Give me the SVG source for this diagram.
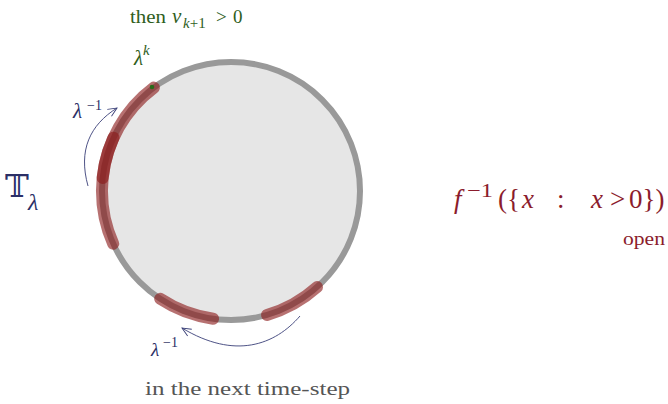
<svg xmlns="http://www.w3.org/2000/svg" width="668" height="404" viewBox="0 0 668 404">
<style>
text{font-family:"Liberation Serif","DejaVu Serif",serif}
.g{fill:#2f5e1c}
.n{fill:#2b2f66}
.r{fill:#8b1c2c}
.it{font-style:italic}
.arc{fill:none;stroke:#8b1a1a;stroke-opacity:0.62;stroke-width:12;stroke-linecap:round}
.arr{fill:none;stroke:#3a4078;stroke-width:0.9}
</style>
<defs>
<marker id="ah" markerWidth="12" markerHeight="12" refX="0" refY="0" viewBox="-10 -6 12 12" orient="auto" markerUnits="userSpaceOnUse">
<path d="M -9 -4 L 0 0 L -9 4" fill="none" stroke="#3a4078" stroke-width="0.9"/>
</marker>
</defs>
<g id="circle">
<circle cx="231" cy="191" r="129" fill="#e6e6e6" stroke="#999" stroke-width="6"/>
</g>
<g id="arcs">
<path class="arc" d="M 153.9 87.6 A 129 129 0 0 0 102.7 178"/>
<path class="arc" d="M 113.5 137.7 A 129 129 0 0 0 113.2 243.7"/>
<path class="arc" d="M 160.2 298.8 A 129 129 0 0 0 213.1 318.7"/>
<path class="arc" d="M 267 314.9 A 129 129 0 0 0 317 287.1"/>
</g>
<circle cx="152" cy="87" r="2.3" fill="#2a6a1a"/>
<g id="connectors">
<path class="arr" d="M 88 186 C 78 150, 90 125, 117 108" marker-end="url(#ah)"/>
<path class="arr" d="M 300 316 C 275 345, 235 360, 182 328" marker-end="url(#ah)"/>
</g>
<g id="labels">
<text y="23" font-size="19" class="g"><tspan x="130" textLength="36" lengthAdjust="spacingAndGlyphs">then</tspan><tspan x="172" class="it" font-size="21">v</tspan><tspan x="183" y="28" class="it" font-size="15">k</tspan><tspan font-size="15">+1</tspan><tspan x="216" y="23">&gt;</tspan><tspan x="233">0</tspan></text>
<text x="134" y="65" font-size="21" class="g it">λ<tspan font-size="15" dy="-10">k</tspan></text>
<text x="73" y="118" font-size="21" class="n it">λ<tspan x="87" y="110" font-style="normal" font-size="14">−1</tspan></text>
<text x="5" y="197" font-size="32" class="n">𝕋<tspan x="28" y="210" class="it" font-size="24">λ</tspan></text>
<text x="151" y="356" font-size="19" class="n it">λ<tspan x="163" y="347" font-style="normal" font-size="14">−1</tspan></text>
<text x="145" y="395" font-size="19" fill="#555" textLength="205" lengthAdjust="spacingAndGlyphs">in the next time-step</text>
<text y="208" font-size="27" class="r"><tspan x="454" class="it">f</tspan><tspan x="467" y="197" font-size="19" textLength="26" lengthAdjust="spacingAndGlyphs">−1</tspan><tspan x="498" y="208">({</tspan><tspan x="522" class="it">x</tspan><tspan x="557">:</tspan><tspan x="591" class="it">x</tspan><tspan x="610">&gt;</tspan><tspan x="629">0})</tspan></text>
<text x="623" y="245" font-size="18" class="r" textLength="42" lengthAdjust="spacingAndGlyphs">open</text>
</g>
</svg>
